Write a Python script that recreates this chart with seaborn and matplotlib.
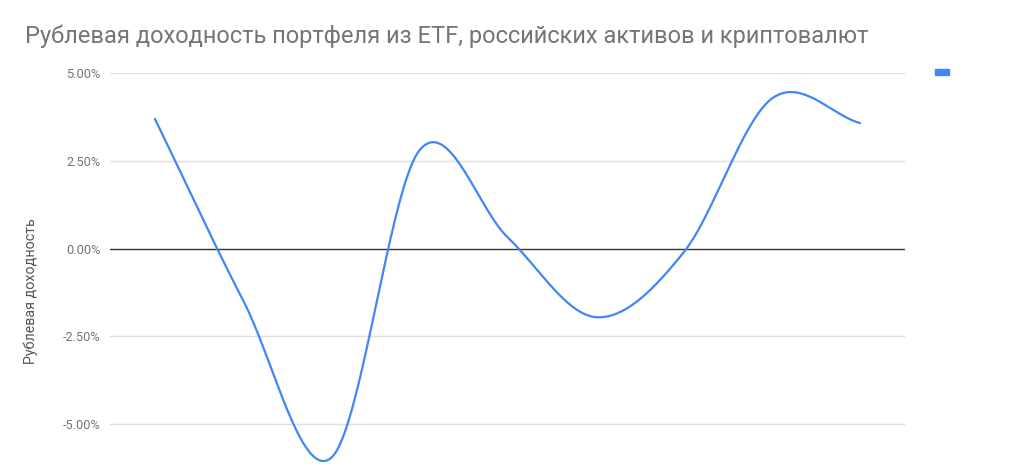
import numpy as np
import pandas as pd
import matplotlib
matplotlib.use("Agg")
import matplotlib.pyplot as plt
import seaborn as sns
from matplotlib.patches import Patch
from matplotlib.ticker import FuncFormatter

# ---- data ----
periods = ["1", "2", "3", "4", "5", "6", "7", "8", "9"]
returns_pct = [3.70, -1.47, -5.96, 2.80, 0.33, -1.95, -0.10, 4.28, 3.58]
y_ticks = [-5.0, -2.5, 0.0, 2.5, 5.0]
title = "Рублевая доходность портфеля из ETF, российских активов и криптовалют"
y_label = "Рублевая доходность"

LINE = "#4285F4"

sns.set_theme(style="white")
plt.rcParams["font.family"] = ["Roboto", "DejaVu Sans"]


def smooth(xv, yv, n=40):
    xv = np.asarray(xv, float)
    yv = np.asarray(yv, float)
    k = len(xv)
    m = np.zeros(k)
    for i in range(k):
        if i == 0:
            m[i] = (yv[1] - yv[0]) / (xv[1] - xv[0])
        elif i == k - 1:
            m[i] = (yv[-1] - yv[-2]) / (xv[-1] - xv[-2])
        else:
            m[i] = (yv[i + 1] - yv[i - 1]) / (xv[i + 1] - xv[i - 1])
    xs, ys = [], []
    for i in range(k - 1):
        h = xv[i + 1] - xv[i]
        t = np.linspace(0, 1, n, endpoint=(i == k - 2))
        h00 = 2 * t**3 - 3 * t**2 + 1
        h10 = t**3 - 2 * t**2 + t
        h01 = -2 * t**3 + 3 * t**2
        h11 = t**3 - t**2
        xs.append(xv[i] + t * h)
        ys.append(h00 * yv[i] + h10 * h * m[i] + h01 * yv[i + 1] + h11 * h * m[i + 1])
    return np.concatenate(xs), np.concatenate(ys)


idx = np.arange(len(periods))
sx, sy = smooth(idx, returns_pct)
df = pd.DataFrame({"x": sx, "y": sy})

fig = plt.figure(figsize=(10.24, 4.75), dpi=100)
ax = fig.add_axes([110 / 1024, 0.0, (905 - 110) / 1024, 1 - 73.3 / 475])

for t in y_ticks:
    if t == 0:
        continue
    ax.axhline(t, color="#e0e0e0", lw=1.0, zorder=1)
ax.axhline(0, color="#333333", lw=1.0, zorder=2)

sns.lineplot(data=df, x="x", y="y", ax=ax, color=LINE, lw=1.6, zorder=3, sort=False)

ax.set_xlim(-0.51, len(periods) - 1 + 0.51)
ax.set_ylim(-6.45, 5.0)
ax.set_yticks(y_ticks)
ax.yaxis.set_major_formatter(FuncFormatter(lambda v, p: f"{v:.2f}%"))
ax.set_xticks([])
ax.tick_params(axis="y", length=0, pad=7, labelsize=9.2, labelcolor="#757575")
for s in ax.spines.values():
    s.set_visible(False)
ax.set_xlabel("")
ax.set_ylabel(y_label, fontsize=10.3, color="#555555")
ax.yaxis.set_label_coords(-(110 - 38) / 795, (475 - 291) / 401.7)

fig.text(25 / 1024, 1 - 36 / 475, title, fontsize=17, color="#757575", va="center", ha="left")

fig.legend(handles=[Patch(facecolor=LINE, edgecolor=LINE)], labels=[""],
           loc="center left", bbox_to_anchor=(921 / 1024, 1 - 73.5 / 475),
           frameon=False, handlelength=0.93, handleheight=0.3, handletextpad=0.2)

fig.savefig("out.png", dpi=100)
